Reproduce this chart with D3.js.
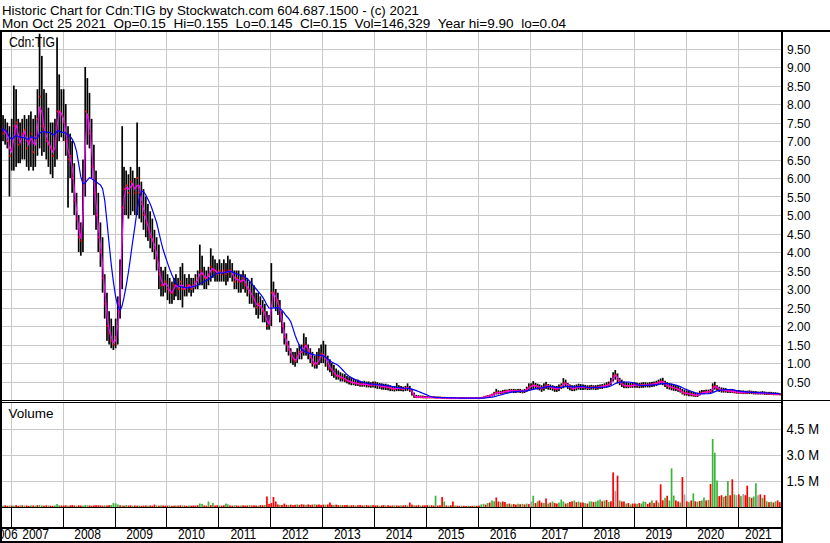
<!DOCTYPE html>
<html>
<head>
<meta charset="utf-8">
<script src="https://d3js.org/d3.v7.min.js"></script>
<style>
  body { margin: 0; background: #ffffff; }
  svg { display: block; font-family: "Liberation Sans", Arial, sans-serif; }
  text { white-space: pre; fill: #000000; }
</style>
</head>
<body>
<svg id="chart" width="830" height="543"></svg>
<script>

// half-month buckets, Oct-H2 2006 .. Oct-H2 2021, one line per year
const priceHi = [
  7.9, 7.7, 7.6, 7.5, 7.4,
  7.6, 8.5, 8.4, 7.6, 7.5, 7.6, 7.7, 7.6, 7.7, 7.8, 7.6, 7.7, 8.4, 9.9, 9.3, 8.4, 8.3, 7.9, 7.5, 7.5, 7.6, 9.8, 8.8, 8.4,
  8.4, 8.0, 7.4, 7.2, 7.0, 6.4, 5.6, 5.0, 4.8, 6.5, 9.0, 8.7, 8.3, 7.6, 6.9, 6.2, 5.6, 4.8, 4.4, 3.4, 2.9, 2.4, 2.2, 2.0,
  2.2, 2.8, 3.8, 7.4, 6.3, 6.2, 6.1, 6.3, 6.2, 6.0, 7.5, 6.3, 5.9, 5.7, 5.5, 5.3, 5.1, 4.9, 4.6, 4.4, 4.2, 3.6, 3.5, 3.6,
  3.4, 3.3, 3.2, 3.3, 3.4, 3.3, 3.6, 3.7, 3.4, 3.3, 3.4, 3.3, 3.3, 3.4, 3.5, 4.2, 3.9, 3.6, 3.5, 3.6, 4.1, 3.9, 3.8, 3.7,
  3.8, 3.7, 3.8, 3.7, 3.9, 3.8, 3.7, 3.5, 3.5, 3.5, 3.4, 3.5, 3.4, 3.3, 3.2, 3.3, 3.1, 2.9, 2.9, 2.8, 2.7, 2.6, 2.4, 2.3,
  3.7, 3.2, 3.0, 2.9, 2.7, 2.4, 2.1, 1.8, 1.6, 1.4, 1.3, 1.3, 1.4, 1.5, 1.5, 1.8, 1.7, 1.5, 1.4, 1.3, 1.2, 1.3, 1.4, 1.5,
  1.6, 1.5, 1.2, 1.1, 1.0, 0.95, 0.85, 0.8, 0.75, 0.72, 0.7, 0.65, 0.62, 0.6, 0.58, 0.56, 0.55, 0.52, 0.5, 0.52, 0.5, 0.5, 0.48, 0.5,
  0.5, 0.48, 0.46, 0.45, 0.44, 0.44, 0.42, 0.4, 0.38, 0.38, 0.46, 0.4, 0.38, 0.36, 0.38, 0.45, 0.38, 0.3, 0.2, 0.14, 0.13, 0.12, 0.12, 0.11,
  0.11, 0.1, 0.1, 0.1, 0.09, 0.09, 0.09, 0.08, 0.08, 0.08, 0.07, 0.07, 0.07, 0.07, 0.07, 0.07, 0.07, 0.07, 0.07, 0.07, 0.07, 0.07, 0.07, 0.07,
  0.07, 0.08, 0.09, 0.11, 0.13, 0.14, 0.17, 0.22, 0.3, 0.26, 0.25, 0.27, 0.28, 0.28, 0.3, 0.3, 0.3, 0.29, 0.3, 0.3, 0.28, 0.3, 0.36, 0.45,
  0.45, 0.51, 0.46, 0.44, 0.42, 0.4, 0.45, 0.49, 0.43, 0.42, 0.4, 0.38, 0.38, 0.42, 0.45, 0.59, 0.55, 0.46, 0.42, 0.4, 0.4, 0.42, 0.44, 0.43,
  0.42, 0.41, 0.4, 0.4, 0.41, 0.4, 0.4, 0.41, 0.42, 0.43, 0.45, 0.48, 0.5, 0.6, 0.75, 0.81, 0.72, 0.6, 0.55, 0.5, 0.48, 0.46, 0.46, 0.47,
  0.48, 0.47, 0.46, 0.47, 0.48, 0.48, 0.47, 0.48, 0.49, 0.5, 0.52, 0.55, 0.58, 0.6, 0.52, 0.48, 0.46, 0.44, 0.42, 0.4, 0.38, 0.34, 0.3, 0.28,
  0.26, 0.25, 0.24, 0.22, 0.2, 0.2, 0.25, 0.27, 0.27, 0.28, 0.28, 0.3, 0.45, 0.49, 0.4, 0.36, 0.34, 0.33, 0.32, 0.3, 0.3, 0.3, 0.28, 0.27,
  0.27, 0.26, 0.26, 0.25, 0.25, 0.26, 0.25, 0.24, 0.24, 0.23, 0.23, 0.24, 0.23, 0.22, 0.22, 0.22, 0.21, 0.21, 0.2, 0.19
];

const priceLo = [
  6.9, 7.0, 6.9, 6.8, 5.5,
  6.2, 6.2, 6.3, 6.4, 6.4, 6.5, 6.5, 6.3, 6.2, 6.3, 6.2, 6.3, 6.6, 6.8, 6.6, 6.7, 6.5, 6.3, 6.1, 6.0, 6.3, 6.5, 7.0, 7.1,
  7.0, 6.6, 5.2, 6.0, 5.6, 5.0, 4.6, 4.0, 3.9, 4.0, 5.5, 6.9, 6.8, 6.0, 5.0, 4.6, 4.0, 3.6, 2.9, 2.2, 1.6, 1.5, 1.4, 1.35,
  1.4, 1.5, 2.2, 3.0, 5.0, 5.0, 4.9, 5.0, 5.1, 5.0, 5.0, 4.9, 4.8, 4.6, 4.4, 4.3, 4.1, 4.0, 3.8, 3.5, 3.0, 2.8, 2.8, 2.9,
  2.7, 2.6, 2.6, 2.7, 2.8, 2.7, 2.7, 2.5, 2.8, 2.8, 2.9, 2.8, 2.9, 3.0, 3.0, 3.1, 3.1, 3.0, 3.0, 3.1, 3.2, 3.3, 3.2, 3.2,
  3.2, 3.2, 3.2, 3.1, 3.2, 3.3, 3.2, 3.0, 3.0, 2.9, 2.9, 3.0, 2.9, 2.8, 2.6, 2.6, 2.5, 2.3, 2.2, 2.3, 2.1, 2.1, 1.9, 1.9,
  2.0, 2.5, 2.4, 2.3, 2.1, 1.8, 1.5, 1.3, 1.2, 1.0, 0.95, 0.9, 1.0, 1.1, 1.1, 1.2, 1.2, 1.1, 1.0, 0.9, 0.85, 0.85, 0.95, 1.0,
  1.0, 0.9, 0.8, 0.75, 0.65, 0.6, 0.55, 0.55, 0.5, 0.5, 0.48, 0.45, 0.42, 0.4, 0.4, 0.38, 0.38, 0.36, 0.36, 0.36, 0.34, 0.34, 0.33, 0.34,
  0.32, 0.3, 0.3, 0.28, 0.28, 0.27, 0.26, 0.24, 0.24, 0.23, 0.24, 0.24, 0.24, 0.23, 0.24, 0.25, 0.22, 0.12, 0.06, 0.05, 0.05, 0.05, 0.05, 0.05,
  0.05, 0.05, 0.05, 0.05, 0.05, 0.05, 0.05, 0.04, 0.04, 0.04, 0.04, 0.04, 0.04, 0.04, 0.04, 0.04, 0.04, 0.04, 0.04, 0.04, 0.04, 0.04, 0.04, 0.04,
  0.04, 0.04, 0.05, 0.06, 0.07, 0.08, 0.1, 0.12, 0.15, 0.15, 0.15, 0.17, 0.18, 0.19, 0.2, 0.2, 0.19, 0.19, 0.2, 0.19, 0.18, 0.19, 0.22, 0.25,
  0.28, 0.3, 0.3, 0.28, 0.26, 0.22, 0.25, 0.3, 0.28, 0.27, 0.25, 0.22, 0.22, 0.24, 0.3, 0.32, 0.35, 0.3, 0.26, 0.24, 0.24, 0.26, 0.28, 0.27,
  0.27, 0.28, 0.27, 0.27, 0.28, 0.28, 0.27, 0.28, 0.3, 0.3, 0.32, 0.33, 0.35, 0.4, 0.5, 0.55, 0.45, 0.4, 0.35, 0.32, 0.32, 0.32, 0.33, 0.33,
  0.33, 0.33, 0.32, 0.33, 0.33, 0.34, 0.34, 0.34, 0.35, 0.36, 0.38, 0.4, 0.42, 0.4, 0.35, 0.3, 0.28, 0.26, 0.25, 0.24, 0.22, 0.2, 0.15, 0.12,
  0.12, 0.1, 0.1, 0.09, 0.08, 0.08, 0.12, 0.16, 0.17, 0.18, 0.18, 0.19, 0.22, 0.28, 0.25, 0.22, 0.2, 0.2, 0.2, 0.19, 0.19, 0.19, 0.18, 0.17,
  0.17, 0.17, 0.16, 0.16, 0.16, 0.16, 0.16, 0.15, 0.15, 0.15, 0.15, 0.15, 0.14, 0.14, 0.14, 0.14, 0.13, 0.13, 0.13, 0.13
];

const priceCl = [
  7.4, 7.2, 7.3, 7.0, 6.6,
  6.8, 7.4, 7.5, 6.9, 7.0, 7.2, 7.3, 6.8, 7.0, 7.2, 6.7, 7.1, 7.6, 8.2, 7.4, 7.3, 7.0, 6.9, 6.8, 6.6, 7.0, 7.8, 7.8, 7.7,
  7.5, 7.0, 6.5, 6.6, 6.0, 5.4, 4.9, 4.4, 4.3, 5.8, 7.8, 7.7, 7.2, 6.3, 5.6, 5.0, 4.4, 4.0, 3.3, 2.6, 2.0, 1.8, 1.6, 1.5,
  1.7, 2.4, 3.3, 5.2, 5.7, 5.8, 5.6, 5.9, 5.8, 5.6, 6.0, 5.6, 5.3, 5.0, 4.8, 4.6, 4.4, 4.3, 4.1, 3.8, 3.4, 3.1, 3.1, 3.2,
  3.0, 2.9, 2.9, 3.1, 3.1, 3.0, 3.2, 3.0, 3.0, 3.1, 3.1, 3.0, 3.1, 3.2, 3.3, 3.5, 3.4, 3.3, 3.3, 3.4, 3.6, 3.5, 3.5, 3.4,
  3.5, 3.4, 3.5, 3.4, 3.5, 3.5, 3.4, 3.2, 3.3, 3.2, 3.2, 3.3, 3.1, 3.0, 2.9, 2.8, 2.7, 2.5, 2.6, 2.5, 2.4, 2.3, 2.0, 2.1,
  2.9, 2.9, 2.7, 2.6, 2.3, 2.0, 1.7, 1.5, 1.35, 1.2, 1.1, 1.05, 1.2, 1.3, 1.3, 1.5, 1.45, 1.3, 1.15, 1.0, 0.95, 1.0, 1.15, 1.25,
  1.2, 1.1, 0.95, 0.85, 0.8, 0.7, 0.65, 0.65, 0.6, 0.6, 0.55, 0.52, 0.5, 0.48, 0.46, 0.45, 0.44, 0.42, 0.42, 0.43, 0.42, 0.4, 0.4, 0.42,
  0.42, 0.4, 0.38, 0.36, 0.36, 0.35, 0.34, 0.32, 0.3, 0.3, 0.32, 0.32, 0.3, 0.3, 0.32, 0.33, 0.28, 0.18, 0.1, 0.08, 0.08, 0.08, 0.07, 0.07,
  0.07, 0.07, 0.07, 0.07, 0.06, 0.06, 0.06, 0.06, 0.06, 0.05, 0.05, 0.05, 0.05, 0.05, 0.05, 0.05, 0.05, 0.05, 0.05, 0.05, 0.05, 0.05, 0.05, 0.05,
  0.05, 0.06, 0.07, 0.09, 0.1, 0.12, 0.14, 0.18, 0.2, 0.2, 0.2, 0.22, 0.23, 0.24, 0.25, 0.25, 0.24, 0.24, 0.25, 0.24, 0.23, 0.25, 0.3, 0.35,
  0.38, 0.4, 0.38, 0.36, 0.34, 0.3, 0.35, 0.4, 0.36, 0.35, 0.32, 0.3, 0.3, 0.32, 0.38, 0.45, 0.45, 0.38, 0.34, 0.3, 0.32, 0.34, 0.36, 0.35,
  0.35, 0.34, 0.33, 0.33, 0.35, 0.34, 0.33, 0.35, 0.36, 0.37, 0.38, 0.4, 0.42, 0.5, 0.65, 0.68, 0.55, 0.48, 0.42, 0.38, 0.38, 0.38, 0.38, 0.4,
  0.4, 0.4, 0.39, 0.4, 0.4, 0.41, 0.4, 0.42, 0.43, 0.44, 0.45, 0.48, 0.5, 0.48, 0.42, 0.38, 0.36, 0.34, 0.32, 0.3, 0.28, 0.25, 0.2, 0.18,
  0.18, 0.16, 0.15, 0.14, 0.12, 0.13, 0.18, 0.2, 0.21, 0.22, 0.22, 0.24, 0.35, 0.38, 0.32, 0.28, 0.26, 0.26, 0.25, 0.24, 0.24, 0.23, 0.22, 0.21,
  0.21, 0.2, 0.2, 0.2, 0.2, 0.21, 0.2, 0.19, 0.19, 0.18, 0.18, 0.19, 0.18, 0.17, 0.17, 0.17, 0.16, 0.16, 0.16, 0.15
];

// largest daily volume in each bucket, thousands of shares
const volume = [
  60, 50, 70, 40, 60,
  60, 50, 80, 40, 60, 70, 50, 60, 40, 70, 60, 50, 80, 90, 60, 50, 70, 60, 50, 40, 60, 140, 70, 60,
  60, 70, 50, 60, 80, 60, 50, 70, 60, 50, 90, 70, 60, 50, 60, 80, 70, 60, 50, 70, 60, 80, 90, 200,
  180, 120, 70, 60, 50, 80, 60, 70, 50, 60, 50, 60, 40, 50, 60, 50, 60, 50, 110, 60, 50, 70, 60, 50,
  50, 60, 40, 50, 60, 50, 70, 60, 50, 40, 60, 50, 60, 50, 70, 170, 150, 60, 50, 290, 80, 200, 60, 70,
  60, 50, 70, 170, 120, 60, 50, 70, 60, 50, 60, 70, 50, 60, 80, 60, 70, 60, 50, 80, 70, 90, 580, 150,
  200, 550, 290, 120, 100, 90, 170, 100, 90, 110, 80, 100, 120, 90, 130, 110, 100, 120, 90, 110, 130, 100, 120, 90,
  110, 100, 120, 230, 100, 90, 110, 80, 90, 70, 80, 90, 60, 70, 80, 60, 70, 90, 60, 70, 80, 60, 70, 80,
  60, 70, 50, 60, 80, 60, 70, 50, 60, 70, 60, 50, 70, 60, 80, 60, 230, 110, 70, 60, 80, 50, 60, 70,
  80, 60, 70, 50, 620, 60, 70, 550, 290, 60, 50, 70, 290, 60, 50, 40, 50, 40, 30, 40, 30, 40, 50, 40,
  50, 120, 150, 110, 200, 230, 350, 300, 520, 290, 250, 290, 260, 150, 170, 120, 140, 110, 160, 130, 150, 120, 170, 140,
  290, 620, 200, 300, 350, 230, 200, 460, 170, 230, 290, 200, 170, 230, 400, 290, 170, 200, 260, 300, 350, 250, 290, 230,
  230, 200, 170, 290, 290, 260, 290, 350, 400, 300, 350, 380, 260, 300, 1970, 900, 1780, 350, 290, 290, 170, 200, 120, 170,
  170, 150, 200, 170, 290, 260, 150, 230, 350, 200, 350, 230, 1280, 360, 500, 620, 350, 2200, 630, 350, 290, 230, 1700, 690,
  300, 250, 350, 760, 300, 280, 320, 350, 520, 350, 380, 1300, 3900, 3100, 1500, 600, 650, 550, 620, 1470, 650, 1570, 700, 650,
  700, 600, 720, 650, 1200, 550, 500, 580, 1340, 650, 700, 500, 660, 300, 250, 280, 230, 300, 350, 250
];

// r = down day, g = up day, n = unchanged
const volDir = [
  "rgrrg",
  "rgrrgrgrrgrgrggrrgrrgggr",
  "rrgrrrgrrgggrrrrrrrgrrgg",
  "ggrgrgrrgrrgrrrgrrrgrgrr",
  "rgrrgrrgrrgrrrrggrrgrgrr",
  "grrggrrgrrgrrrgrrrgrrgrr",
  "rrrrgrrrgrrrgrrrgrrrgrrr",
  "rgrrrgrrgrrrgrrgrrrgrrgr",
  "rrgrrgrrrgrrgrrgrrgrrgrr",
  "rgrrgrrrgrgrrgrrgrrgrrgr",
  "rggrgrggrrgrrgrgrrgrgrgr",
  "ngrgrrgrgrgrrgggrgrrgrgr",
  "rgrggrgggrgrgrrnrgrrgrgr",
  "rgrgggrrgrrgrrgrgggrrgrn",
  "rgrgrgrggrgrgggrrgrgrrgn",
  "rgnrrgrggnrgrgrgrgrr"
].join("").split("");

const years = ["2006", "2007", "2008", "2009", "2010", "2011", "2012", "2013",
               "2014", "2015", "2016", "2017", "2018", "2019", "2020", "2021"];
const priceTicks = [0.5, 1, 1.5, 2, 2.5, 3, 3.5, 4, 4.5, 5, 5.5, 6, 6.5, 7, 7.5, 8, 8.5, 9, 9.5];
const volTicks = [1500, 3000, 4500];
const volTickLabels = ["1.5 M", "3.0 M", "4.5 M"];

const headerLine1 = "Historic Chart for Cdn:TIG by Stockwatch.com 604.687.1500 - (c) 2021";
const headerLine2 = "Mon Oct 25 2021  Op=0.15  Hi=0.155  Lo=0.145  Cl=0.15  Vol=146,329  Year hi=9.90  lo=0.04";

// ---------------------------------------------------------------

const W = 830, H = 543;
const plotRight = 781;
const svg = d3.select("#chart");
svg.append("rect").attr("width", W).attr("height", H).attr("fill", "#ffffff");

const tStart = new Date(2006, 9, 18), tEnd = new Date(2021, 10, 8);
const x = d3.scaleTime().domain([tStart, tEnd]).range([0, 782]);
const y = d3.scaleLinear().domain([0, 10]).range([400, 30]);
const yV = d3.scaleLinear().domain([0, 6000]).range([506.5, 402.5]);

function bucketStart(i) {
  const k = i + 1;
  return new Date(2006, 9 + Math.floor(k / 2), k % 2 === 0 ? 1 : 16);
}

const n = priceCl.length;
const bars = d3.range(n).map(i => ({
  x0: x(bucketStart(i)), x1: x(bucketStart(i + 1)),
  hi: priceHi[i], lo: priceLo[i], cl: priceCl[i],
  vol: volume[i], dir: volDir[i]
}));

function sma(arr, len) {
  return arr.map((d, i) => d3.mean(arr.slice(Math.max(0, i - len + 1), i + 1)));
}
const maFast = sma(priceCl, 2);
const maSlow = sma(priceCl, 10);

function squeeze(sel, k) {
  sel.each(function() {
    const w = this.getComputedTextLength();
    this.setAttribute("textLength", (w * k).toFixed(1));
    this.setAttribute("lengthAdjust", "spacingAndGlyphs");
  });
}

const defs = svg.append("defs");
defs.append("clipPath").attr("id", "clipPrice")
  .append("rect").attr("x", 2).attr("y", 32).attr("width", plotRight - 2).attr("height", 368);
defs.append("clipPath").attr("id", "clipVol")
  .append("rect").attr("x", 2).attr("y", 403).attr("width", plotRight - 2).attr("height", 104);

// grid
const yearStarts = years.slice(1).map(s => new Date(+s, 0, 1));
const grid = svg.append("g").attr("stroke", "#c8c8c8").attr("stroke-width", 1);
grid.selectAll(".vp").data(yearStarts).join("line")
  .attr("x1", d => Math.round(x(d)) + 0.5).attr("x2", d => Math.round(x(d)) + 0.5)
  .attr("y1", 32).attr("y2", 400);
grid.selectAll(".vv").data(yearStarts).join("line")
  .attr("x1", d => Math.round(x(d)) + 0.5).attr("x2", d => Math.round(x(d)) + 0.5)
  .attr("y1", 403).attr("y2", 507);
grid.selectAll(".hp").data(priceTicks).join("line")
  .attr("x1", 2).attr("x2", plotRight)
  .attr("y1", d => Math.round(y(d)) + 0.5).attr("y2", d => Math.round(y(d)) + 0.5);
grid.selectAll(".hv").data(volTicks).join("line")
  .attr("x1", 2).attr("x2", plotRight)
  .attr("y1", d => Math.round(yV(d)) + 0.5).attr("y2", d => Math.round(yV(d)) + 0.5);

// price bars
const pg = svg.append("g").attr("clip-path", "url(#clipPrice)");
pg.selectAll(".bar").data(bars).join("rect")
  .attr("x", d => d.x0 + 0.2)
  .attr("width", 1.7)
  .attr("y", d => y(d.hi))
  .attr("height", d => Math.max(1, y(d.lo) - y(d.hi)))
  .attr("fill", "#000000");
pg.selectAll(".close").data(bars).join("rect")
  .attr("x", d => d.x1 - 1.4)
  .attr("width", 1.6)
  .attr("y", d => y(d.cl) - 1)
  .attr("height", 2)
  .attr("fill", "#ff0000");

const mid = i => (bars[i].x0 + bars[i].x1) / 2;
pg.append("path").datum(maFast)
  .attr("fill", "none").attr("stroke", "#ff00ff").attr("stroke-width", 1.2)
  .attr("d", d3.line().x((d, i) => mid(i)).y(d => y(d)));
pg.append("path").datum(maSlow)
  .attr("fill", "none").attr("stroke", "#0000ff").attr("stroke-width", 1.2)
  .attr("d", d3.line().x((d, i) => mid(i)).y(d => y(d)));

// volume bars
const volColor = { r: "#ff0000", g: "#3cb43c", n: "#a0a0a0" };
const vg = svg.append("g").attr("clip-path", "url(#clipVol)");
vg.selectAll("rect").data(bars).join("rect")
  .attr("x", d => d.x0 + 0.2)
  .attr("width", 1.7)
  .attr("y", d => yV(d.vol))
  .attr("height", d => yV(0) - yV(d.vol) + 1)
  .attr("fill", d => volColor[d.dir]);

// frame
const frame = svg.append("g").attr("fill", "#000000");
frame.append("rect").attr("x", 0).attr("y", 30).attr("width", W).attr("height", 2);
frame.append("rect").attr("x", 0).attr("y", 30).attr("width", 2).attr("height", H - 30);
frame.append("rect").attr("x", plotRight).attr("y", 30).attr("width", 2).attr("height", H - 30);
frame.append("rect").attr("x", 0).attr("y", 400).attr("width", W).attr("height", 1);
frame.append("rect").attr("x", 0).attr("y", 402).attr("width", plotRight).attr("height", 1);
frame.append("rect").attr("x", 0).attr("y", 507).attr("width", plotRight).attr("height", 1);
frame.append("rect").attr("x", 0).attr("y", 527).attr("width", plotRight).attr("height", 2);
frame.append("rect").attr("x", 0).attr("y", 541).attr("width", plotRight).attr("height", 2);
frame.selectAll(".tick").data(yearStarts).join("rect")
  .attr("x", d => Math.round(x(d))).attr("y", 508).attr("width", 1).attr("height", 19);

// header texts
svg.append("text").attr("x", 2).attr("y", 15).attr("font-size", 12.5).text(headerLine1)
  .attr("textLength", 417).attr("lengthAdjust", "spacingAndGlyphs");
svg.append("text").attr("x", 2).attr("y", 28.3).attr("font-size", 12.5).text(headerLine2)
  .attr("textLength", 564).attr("lengthAdjust", "spacingAndGlyphs");

svg.append("text").attr("x", 9).attr("y", 46.5).attr("font-size", 14).text("Cdn:TIG")
  .attr("textLength", 46).attr("lengthAdjust", "spacingAndGlyphs");
svg.append("text").attr("x", 8.5).attr("y", 417.5).attr("font-size", 13.5).text("Volume")
  .attr("textLength", 45).attr("lengthAdjust", "spacingAndGlyphs");

// right axes
const pAxis = svg.append("g").attr("transform", "translate(782,0)")
  .call(d3.axisRight(y).tickValues(priceTicks).tickFormat(d3.format(".2f")).tickSize(0).tickPadding(5));
pAxis.select(".domain").remove();
pAxis.selectAll("text").attr("font-size", 13).attr("font-family", "Liberation Sans, Arial, sans-serif")
  .attr("dy", "0.36em").attr("fill", "#000000").call(squeeze, 0.93);

const vAxis = svg.append("g").attr("transform", "translate(782,0)")
  .call(d3.axisRight(yV).tickValues(volTicks).tickFormat((d, i) => volTickLabels[i]).tickSize(0).tickPadding(4.5));
vAxis.select(".domain").remove();
vAxis.selectAll("text").attr("font-size", 14).attr("font-family", "Liberation Sans, Arial, sans-serif")
  .attr("dy", "0.36em").attr("fill", "#000000").call(squeeze, 0.93);

// year labels centred in the visible part of each year
const yearMids = years.map(s => {
  const a = Math.max(+new Date(+s, 0, 1), +tStart);
  const b = Math.min(+new Date(+s + 1, 0, 1), +x.invert(plotRight));
  return new Date((a + b) / 2);
});
const xAxis = svg.append("g").attr("transform", "translate(-1.5,539)")
  .call(d3.axisBottom(x).tickValues(yearMids).tickFormat(d3.timeFormat("%Y")).tickSize(0).tickPadding(0));
xAxis.select(".domain").remove();
xAxis.selectAll("text").attr("font-size", 14).attr("font-family", "Liberation Sans, Arial, sans-serif")
  .attr("y", 0).attr("dy", null).attr("fill", "#000000").call(squeeze, 0.86);

</script>
</body>
</html>
